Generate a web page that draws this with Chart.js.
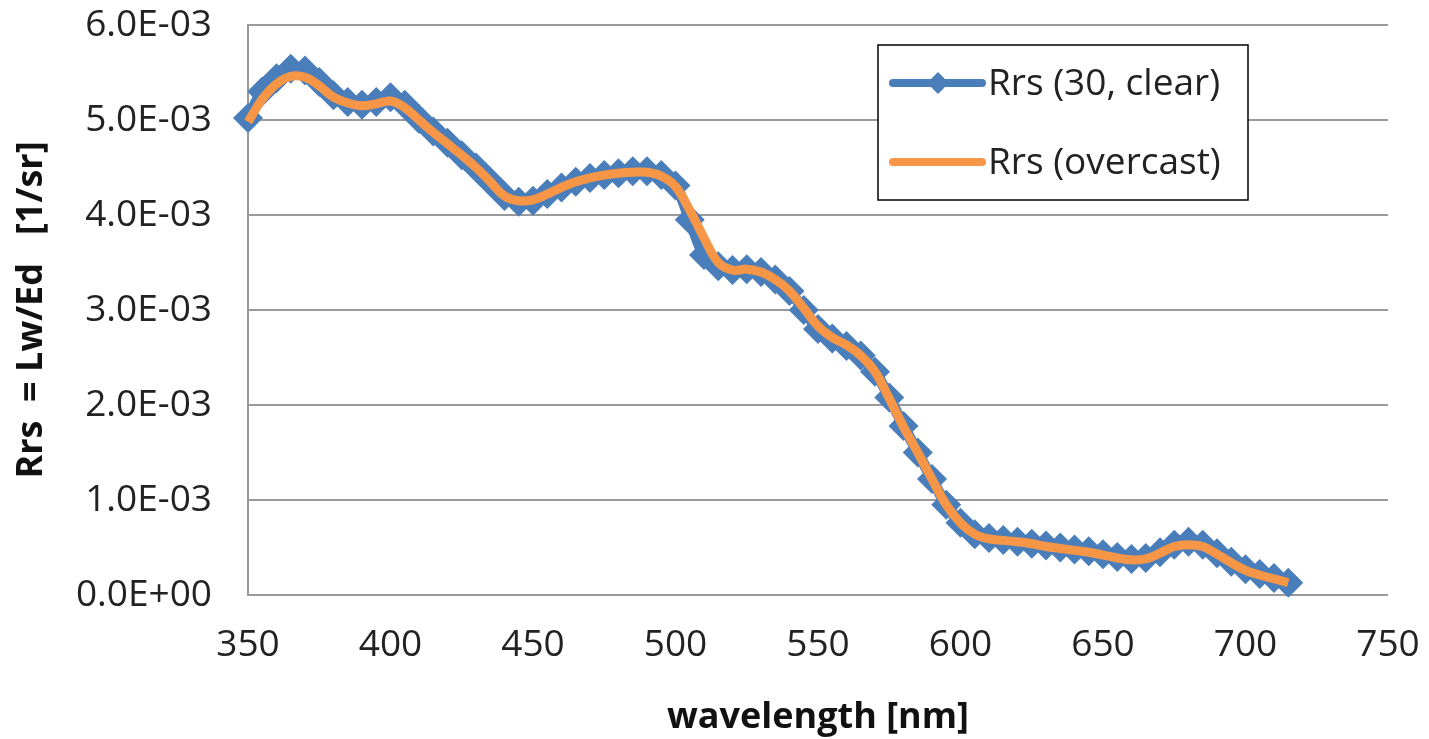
<!DOCTYPE html>
<html>
<head>
<meta charset="utf-8">
<title>Rrs spectrum</title>
<script src="https://cdn.jsdelivr.net/npm/chart.js@4"></script>
<style>
  html, body { margin: 0; padding: 0; background: #fff; }
  #wrap { width: 1429px; height: 739px; }
</style>
</head>
<body>
<div id="wrap"><canvas id="myChart" width="1429" height="739"></canvas></div>
<script>
// wavelengths [nm]
const wavelengths = [350, 355, 360, 365, 370, 375, 380, 385, 390, 395,
  400, 405, 410, 415, 420, 425, 430, 435, 440, 445,
  450, 455, 460, 465, 470, 475, 480, 485, 490, 495,
  500, 505, 510, 515, 520, 525, 530, 535, 540, 545,
  550, 555, 560, 565, 570, 575, 580, 585, 590, 595,
  600, 605, 610, 615, 620, 625, 630, 635, 640, 645,
  650, 655, 660, 665, 670, 675, 680, 685, 690, 695,
  700, 705, 710, 715];

// Rrs (30, clear) [1/sr]
const rrsClear = [5.02e-3, 5.30e-3, 5.44e-3, 5.54e-3, 5.52e-3, 5.40e-3, 5.26e-3, 5.19e-3, 5.16e-3, 5.19e-3,
  5.24e-3, 5.16e-3, 5.01e-3, 4.88e-3, 4.76e-3, 4.63e-3, 4.50e-3, 4.35e-3, 4.20e-3, 4.14e-3,
  4.15e-3, 4.22e-3, 4.29e-3, 4.35e-3, 4.39e-3, 4.42e-3, 4.44e-3, 4.46e-3, 4.46e-3, 4.42e-3,
  4.31e-3, 3.95e-3, 3.58e-3, 3.46e-3, 3.42e-3, 3.43e-3, 3.40e-3, 3.32e-3, 3.20e-3, 3.00e-3,
  2.80e-3, 2.70e-3, 2.62e-3, 2.52e-3, 2.35e-3, 2.08e-3, 1.78e-3, 1.50e-3, 1.22e-3, 0.95e-3,
  0.76e-3, 0.64e-3, 0.60e-3, 0.58e-3, 0.56e-3, 0.54e-3, 0.52e-3, 0.50e-3, 0.48e-3, 0.46e-3,
  0.43e-3, 0.40e-3, 0.38e-3, 0.39e-3, 0.45e-3, 0.53e-3, 0.56e-3, 0.53e-3, 0.44e-3, 0.35e-3,
  0.27e-3, 0.22e-3, 0.18e-3, 0.13e-3];

// Rrs (overcast) [1/sr]
const rrsOvercast = [4.98e-3, 5.22e-3, 5.38e-3, 5.46e-3, 5.45e-3, 5.36e-3, 5.24e-3, 5.18e-3, 5.15e-3, 5.17e-3,
  5.20e-3, 5.13e-3, 5.00e-3, 4.87e-3, 4.75e-3, 4.63e-3, 4.50e-3, 4.35e-3, 4.20e-3, 4.15e-3,
  4.16e-3, 4.22e-3, 4.29e-3, 4.35e-3, 4.39e-3, 4.42e-3, 4.44e-3, 4.45e-3, 4.45e-3, 4.41e-3,
  4.30e-3, 4.05e-3, 3.76e-3, 3.50e-3, 3.42e-3, 3.43e-3, 3.40e-3, 3.32e-3, 3.20e-3, 3.02e-3,
  2.83e-3, 2.71e-3, 2.63e-3, 2.52e-3, 2.35e-3, 2.07e-3, 1.77e-3, 1.50e-3, 1.22e-3, 0.95e-3,
  0.76e-3, 0.64e-3, 0.59e-3, 0.575e-3, 0.56e-3, 0.54e-3, 0.51e-3, 0.49e-3, 0.47e-3, 0.45e-3,
  0.42e-3, 0.39e-3, 0.37e-3, 0.38e-3, 0.44e-3, 0.51e-3, 0.53e-3, 0.51e-3, 0.43e-3, 0.34e-3,
  0.26e-3, 0.21e-3, 0.17e-3, 0.13e-3];

const xTicks = [350, 400, 450, 500, 550, 600, 650, 700, 750];
const yTicks = [0, 1e-3, 2e-3, 3e-3, 4e-3, 5e-3, 6e-3];

const FONT = '"Open Sans", "DejaVu Sans", sans-serif';
const BLUE = '#4a7ebb';
const ORANGE = '#f79646';

function toPoints(ys) {
  return wavelengths.map((w, i) => ({ x: w, y: ys[i] }));
}

// Excel style exponent label: 6.0E-03
function sciLabel(v) {
  let s = Number(v).toExponential(1).toUpperCase();
  return s.replace(/E([+-])(\d)$/, 'E$10$2');
}

// boxed legend drawn inside the plot, like the Excel chart
const boxLegend = {
  id: 'boxLegend',
  afterDraw(chart) {
    const ctx = chart.ctx;
    const x0 = 878, y0 = 45, w = 370, h = 155;
    ctx.save();
    ctx.fillStyle = '#fff';
    ctx.fillRect(x0, y0, w, h);
    ctx.strokeStyle = '#000';
    ctx.lineWidth = 1.5;
    ctx.strokeRect(x0, y0, w, h);
    const sets = chart.data.datasets;
    const rows = [y0 + 38, y0 + 117];
    sets.forEach((ds, i) => {
      const y = rows[i];
      ctx.strokeStyle = ds.borderColor;
      ctx.lineWidth = 8;
      ctx.lineCap = 'round';
      ctx.beginPath();
      ctx.moveTo(x0 + 15, y);
      ctx.lineTo(x0 + 104, y);
      ctx.stroke();
      if (ds.pointRadius > 0) {
        const r = 11;
        const cx = x0 + 60;
        ctx.fillStyle = ds.pointBackgroundColor;
        ctx.beginPath();
        ctx.moveTo(cx - r, y);
        ctx.lineTo(cx, y - r);
        ctx.lineTo(cx + r, y);
        ctx.lineTo(cx, y + r);
        ctx.closePath();
        ctx.fill();
      }
      ctx.fillStyle = '#222';
      ctx.font = '37px ' + FONT;
      ctx.textBaseline = 'middle';
      ctx.fillText(ds.label, x0 + 110, y + 1);
    });
    ctx.restore();
  }
};

// drop the automatic label overhang so the plot area matches the original
function noOverhang(scale) {
  scale.paddingTop = 0;
  scale.paddingBottom = 0;
  scale.paddingLeft = 0;
  scale.paddingRight = 0;
}

const data = {
  datasets: [
    {
      label: 'Rrs (30, clear)',
      data: toPoints(rrsClear),
      borderColor: BLUE,
      backgroundColor: BLUE,
      pointBackgroundColor: BLUE,
      pointBorderColor: BLUE,
      pointStyle: 'rectRot',
      pointRadius: 15,
      pointBorderWidth: 0,
      borderWidth: 11,
      tension: 0.4,
      clip: false,
      order: 2
    },
    {
      label: 'Rrs (overcast)',
      data: toPoints(rrsOvercast),
      borderColor: ORANGE,
      backgroundColor: ORANGE,
      pointRadius: 0,
      borderWidth: 9,
      tension: 0.4,
      clip: false,
      order: 1
    }
  ]
};

const config = {
  type: 'line',
  data: data,
  options: {
    responsive: false,
    animation: false,
    layout: { padding: { left: 0, top: 25, right: 41, bottom: 0 } },
    plugins: {
      legend: { display: false },
      tooltip: { enabled: false }
    },
    scales: {
      x: {
        type: 'linear',
        min: 350,
        max: 750,
        afterBuildTicks: (scale) => { scale.ticks = xTicks.map(v => ({ value: v })); },
        afterFit: (scale) => { scale.height = 144; noOverhang(scale); },
        grid: { display: false, drawTicks: false },
        border: { display: false },
        ticks: {
          padding: 28,
          color: '#222',
          font: { family: FONT, size: 37 },
          maxRotation: 0
        },
        title: {
          display: true,
          text: 'wavelength [nm]',
          color: '#111',
          font: { family: FONT, size: 36, weight: 'bold' },
          padding: { top: 0, bottom: 0 }
        }
      },
      y: {
        min: 0,
        max: 6e-3,
        afterBuildTicks: (scale) => { scale.ticks = yTicks.map(v => ({ value: v })); },
        afterFit: (scale) => { scale.width = 248; noOverhang(scale); },
        grid: { color: '#9a9a9a', lineWidth: 2, drawTicks: false },
        border: { display: true, color: '#9a9a9a', width: 2 },
        ticks: {
          padding: 36,
          color: '#222',
          font: { family: FONT, size: 37 },
          callback: (v) => sciLabel(v)
        },
        title: {
          display: true,
          text: 'Rrs  = Lw/Ed   [1/sr]',
          color: '#111',
          font: { family: FONT, size: 36, weight: 'bold' },
          padding: { top: 10, bottom: 0 }
        }
      }
    }
  },
  plugins: [boxLegend]
};

var myChart = new Chart(document.getElementById('myChart'), config);
</script>
</body>
</html>
